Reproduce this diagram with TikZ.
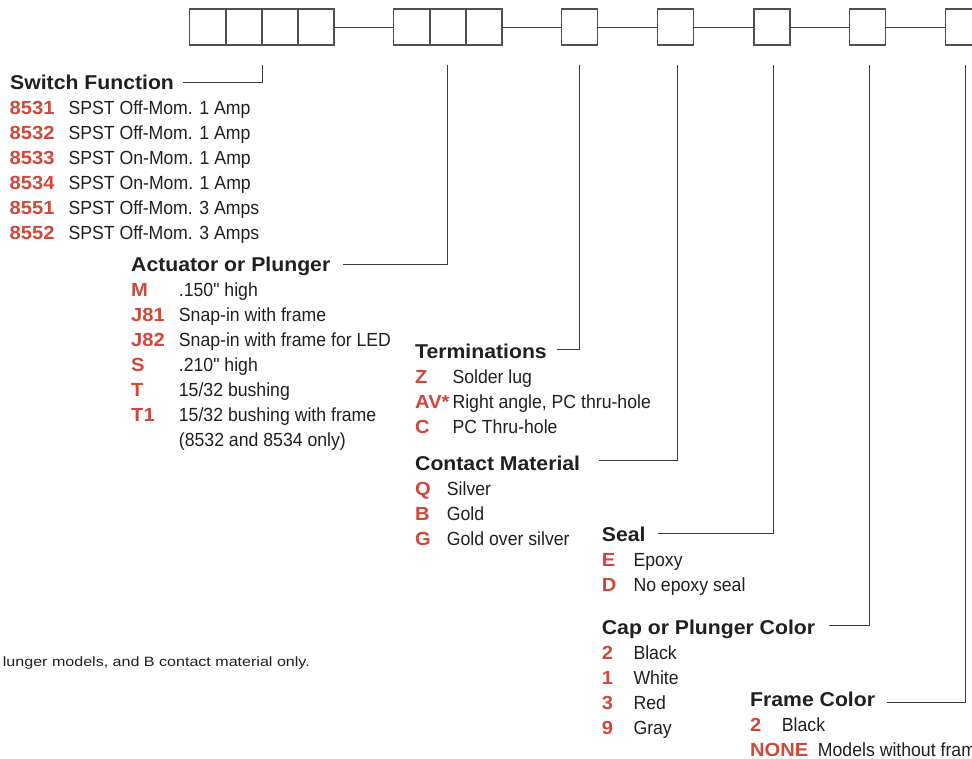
\documentclass[tikz,border=0pt]{standalone}
\usepackage{fontspec}
\setmainfont{Liberation Sans}
\newfontfamily\condf[FakeStretch=0.93]{Liberation Sans}
\newfontfamily\widef[FakeStretch=1.06]{Liberation Sans}
\newfontfamily\footf[FakeStretch=1.19]{Liberation Sans}
\definecolor{codered}{RGB}{208,72,58}
\definecolor{txt}{RGB}{35,31,32}
\definecolor{boxgray}{RGB}{80,80,80}
\definecolor{linegray}{RGB}{60,60,60}
\tikzset{
  hdr/.style={anchor=base west, inner sep=0pt, text=txt, font=\widef\bfseries\fontsize{20}{20}\selectfont},
  code/.style={anchor=base west, inner sep=0pt, text=codered, font=\widef\bfseries\fontsize{19}{19}\selectfont},
  desc/.style={anchor=base west, inner sep=0pt, text=txt, font=\condf\fontsize{19}{19}\selectfont},
  digit/.style={draw=boxgray, line width=1.3pt, minimum width=36pt, minimum height=36pt, inner sep=0pt},
  wire/.style={draw=linegray, line width=1pt},
  leader/.style={draw=linegray, line width=1pt},
}
\begin{document}
\begin{tikzpicture}[x=1pt,y=-1pt]
\clip (0,0) rectangle (972,758);
\fill[white] (0,0) rectangle (972,758);
% boxes
\node[digit] (b1) at (207.8,27) {};
\node[digit] (b2) at (243.9,27) {};
\node[digit] (b3) at (280.0,27) {};
\node[digit] (b4) at (316.1,27) {};
\node[digit] (c1) at (411.8,27) {};
\node[digit] (c2) at (447.9,27) {};
\node[digit] (c3) at (484.0,27) {};
\node[digit] (d) at (579.8,27) {};
\node[digit] (e) at (675.6,27) {};
\node[digit] (f) at (771.9,27) {};
\node[digit] (g) at (867.6,27) {};
\node[digit] (h) at (963.8,27) {};
\draw[wire] (b4.east) -- (c1.west);
\draw[wire] (c3.east) -- (d.west);
\draw[wire] (d.east) -- (e.west);
\draw[wire] (e.east) -- (f.west);
\draw[wire] (f.east) -- (g.west);
\draw[wire] (g.east) -- (h.west);
% leader ends
\coordinate (sfL) at (183,82.5);
\coordinate (acL) at (342.5,264);
\coordinate (tmL) at (557,349);
\coordinate (cmL) at (599,460.7);
\coordinate (seL) at (657.7,533.3);
\coordinate (cpL) at (829,625.7);
\coordinate (frL) at (886.7,702.7);
\draw[leader] ([yshift=-19pt]b2.south east) |- (sfL);
\draw[leader] ([yshift=-19pt]c2.south) |- (acL);
\draw[leader] ([yshift=-19pt]d.south) |- (tmL);
\draw[leader] ([xshift=1.5pt,yshift=-19pt]e.south) |- (cmL);
\draw[leader] ([xshift=1.2pt,yshift=-19pt]f.south) |- (seL);
\draw[leader] ([xshift=1.5pt,yshift=-19pt]g.south) |- (cpL);
\draw[leader] ([xshift=1.5pt,yshift=-19pt]h.south) |- (frL);
% Switch Function
\node[hdr] (hsf) at (10,89.3) {Switch Function};
\node[code] (sf1) at (9.5,114.3) {8531}; \node[desc] (sfd1) at (68.3,114.3) {SPST Off-Mom. 1 Amp};
\node[code] (sf2) at (9.5,139.3) {8532}; \node[desc] (sfd2) at (68.3,139.3) {SPST Off-Mom. 1 Amp};
\node[code] (sf3) at (9.5,164.3) {8533}; \node[desc] (sfd3) at (68.3,164.3) {SPST On-Mom. 1 Amp};
\node[code] (sf4) at (9.5,189.3) {8534}; \node[desc] (sfd4) at (68.3,189.3) {SPST On-Mom. 1 Amp};
\node[code] (sf5) at (9.5,214.3) {8551}; \node[desc] (sfd5) at (68.3,214.3) {SPST Off-Mom. 3 Amps};
\node[code] (sf6) at (9.5,239.3) {8552}; \node[desc] (sfd6) at (68.3,239.3) {SPST Off-Mom. 3 Amps};
% Actuator
\node[hdr] (hac) at (131,271.7) {Actuator or Plunger};
\node[code] (ac1) at (131,296.7) {M};   \node[desc] (acd1) at (178.7,296.7) {.150" high};
\node[code] (ac2) at (131,321.7) {J81}; \node[desc] (acd2) at (178.7,321.7) {Snap-in with frame};
\node[code] (ac3) at (131,346.7) {J82}; \node[desc] (acd3) at (178.7,346.7) {Snap-in with frame for LED};
\node[code] (ac4) at (131,371.7) {S};   \node[desc] (acd4) at (178.7,371.7) {.210" high};
\node[code] (ac5) at (131,396.7) {T};   \node[desc] (acd5) at (178.7,396.7) {15/32 bushing};
\node[code] (ac6) at (131,421.7) {T1};  \node[desc] (acd6) at (178.7,421.7) {15/32 bushing with frame};
\node[desc] (acd7) at (178.7,446.7) {(8532 and 8534 only)};
% Terminations
\node[hdr] (htm) at (415,358.3) {Terminations};
\node[code] (tm1) at (415,383.3) {Z};   \node[desc] (tmd1) at (452.3,383.3) {Solder lug};
\node[code] (tm2) at (415,408.3) {AV*}; \node[desc] (tmd2) at (452.3,408.3) {Right angle, PC thru-hole};
\node[code] (tm3) at (415,433.3) {C};   \node[desc] (tmd3) at (452.3,433.3) {PC Thru-hole};
% Contact Material
\node[hdr] (hcm) at (415,470.7) {Contact Material};
\node[code] (cm1) at (415,495.3) {Q}; \node[desc] (cmd1) at (446.7,495.3) {Silver};
\node[code] (cm2) at (415,520.3) {B}; \node[desc] (cmd2) at (446.7,520.3) {Gold};
\node[code] (cm3) at (415,545.3) {G}; \node[desc] (cmd3) at (446.7,545.3) {Gold over silver};
% Seal
\node[hdr] (hse) at (601.7,541.7) {Seal};
\node[code] (se1) at (601.7,566.7) {E}; \node[desc] (sed1) at (633.3,566.7) {Epoxy};
\node[code] (se2) at (601.7,591.7) {D}; \node[desc] (sed2) at (633.3,591.7) {No epoxy seal};
% Cap or Plunger Color
\node[hdr] (hcp) at (601.7,634) {Cap or Plunger Color};
\node[code] (cp1) at (601.7,659) {2}; \node[desc] (cpd1) at (633.3,659) {Black};
\node[code] (cp2) at (601.7,684) {1}; \node[desc] (cpd2) at (633.3,684) {White};
\node[code] (cp3) at (601.7,709) {3}; \node[desc] (cpd3) at (633.3,709) {Red};
\node[code] (cp4) at (601.7,734) {9}; \node[desc] (cpd4) at (633.3,734) {Gray};
% Frame Color
\node[hdr] (hfr) at (750,706) {Frame Color};
\node[code] (fr1) at (750,731.7) {2};    \node[desc] (frd1) at (781.7,731.7) {Black};
\node[code] (fr2) at (750,756.7) {NONE}; \node[desc] (frd2) at (817.7,756.7) {Models without frame};
% footnote
\node[anchor=base east, inner sep=0pt, text=txt, font=\footf\fontsize{13.5}{13.5}\selectfont] (fn) at (310,666) {lunger models, and B contact material only.};
\end{tikzpicture}
\end{document}
